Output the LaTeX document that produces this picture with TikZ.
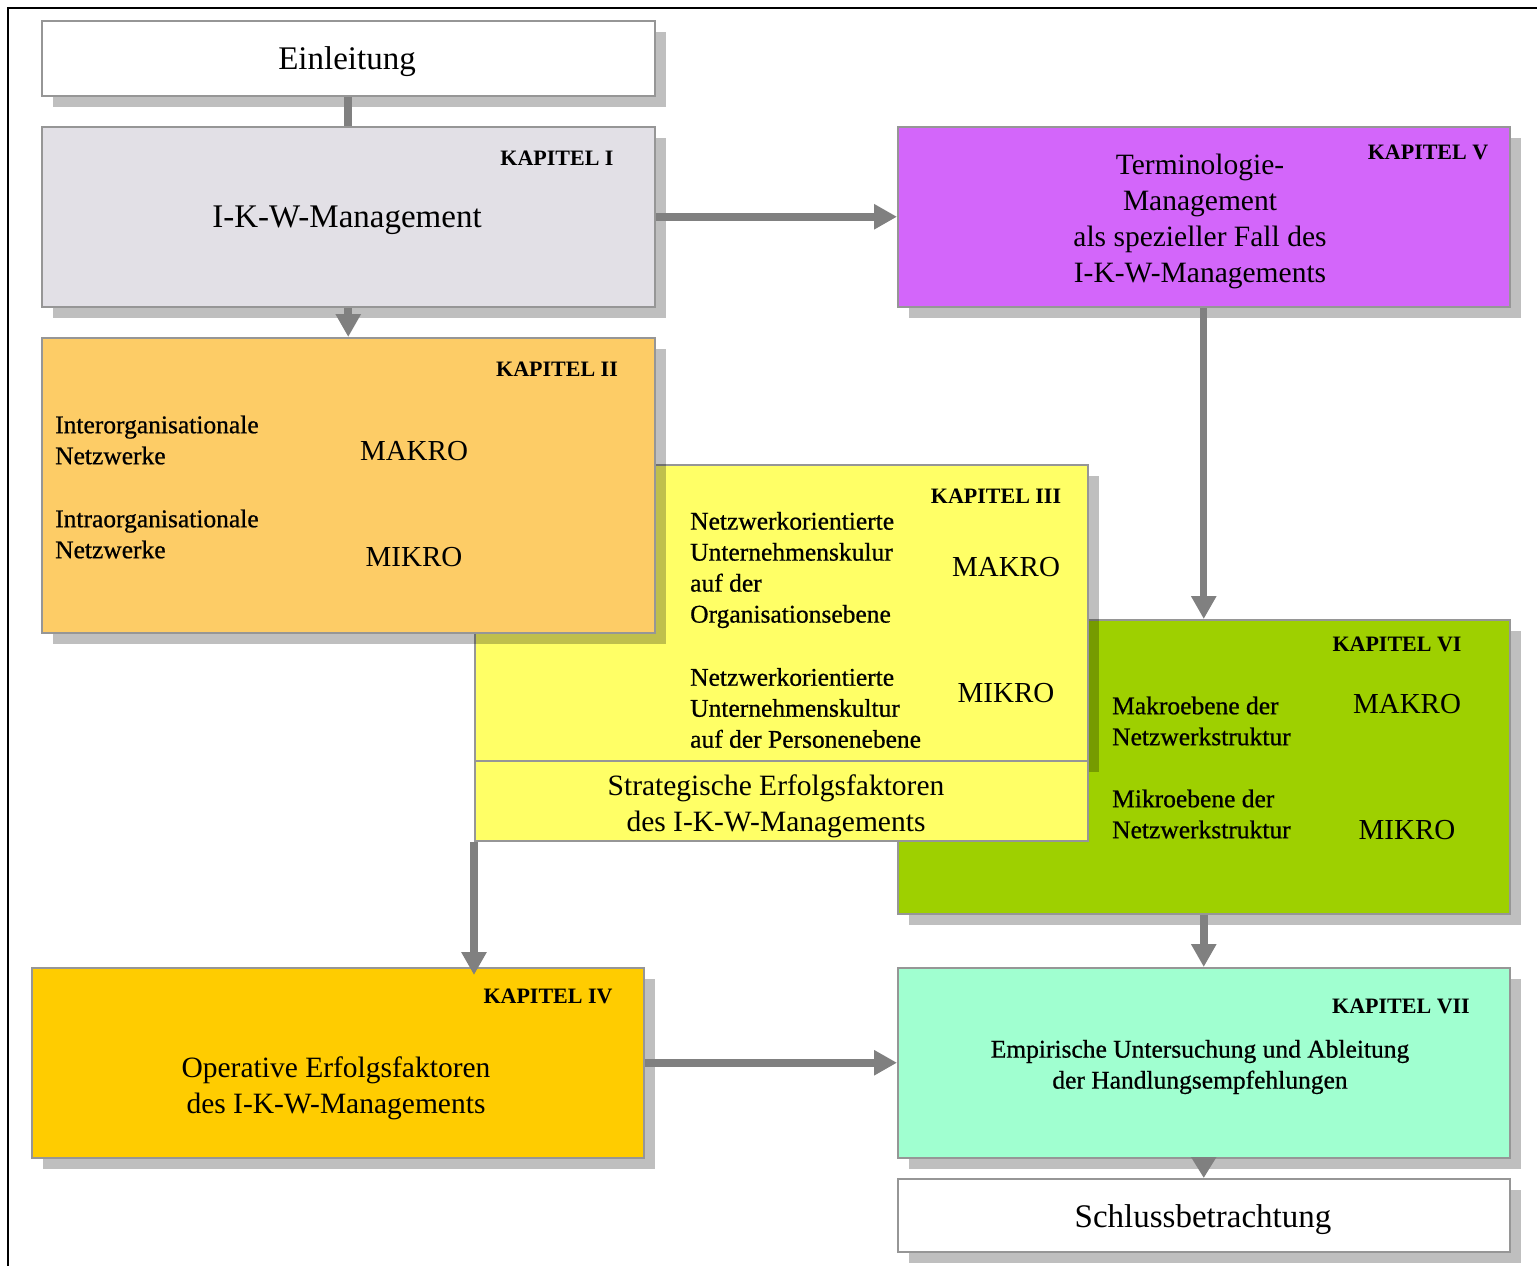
\documentclass[tikz,border=0pt]{standalone}
\usepackage{fontspec}
\setmainfont{Liberation Serif}
\newfontfamily\medserif{Liberation Serif}[FakeBold=0.7]
\usetikzlibrary{arrows.meta,shadows}

\definecolor{kapOne}{RGB}{226,224,230}
\definecolor{kapTwo}{RGB}{253,204,102}
\definecolor{kapThree}{RGB}{255,255,102}
\definecolor{kapFour}{RGB}{255,204,0}
\definecolor{kapFive}{RGB}{211,102,250}
\definecolor{kapSix}{RGB}{158,208,0}
\definecolor{kapSeven}{RGB}{160,255,208}
\definecolor{edgeGray}{RGB}{150,150,150}
\definecolor{linkGray}{RGB}{128,128,128}

\newcommand\fsBig{\fontsize{33}{36}\selectfont}
\newcommand\fsMid{\fontsize{29.5}{36}\selectfont}
\newcommand\fsMac{\fontsize{29}{32}\selectfont}
\newcommand\fsSmall{\medserif\fontsize{25.5}{31}\selectfont}
\newcommand\fsKap{\fontsize{22}{24}\selectfont\bfseries}

\tikzset{
  chapbox/.style={draw=edgeGray, line width=1.5pt, rectangle, inner sep=0pt,
    anchor=north west,
    drop shadow={shadow xshift=11pt, shadow yshift=-11pt, fill=black, opacity=0.25}},
  plainbox/.style={draw=edgeGray, line width=1.5pt, rectangle, inner sep=0pt,
    anchor=north west},
  txt/.style={inner sep=0pt, text=black},
  kaplabel/.style={txt, font=\fsKap},
  link/.style={draw=linkGray, line width=8pt},
  arrowlink/.style={link, -{Triangle[width=24pt,length=23pt]}},
}

\begin{document}
\begin{tikzpicture}[x=1pt, y=-1pt]
\useasboundingbox (0,0) rectangle (1537,1266);
\fill[white] (0,0) rectangle (1537,1266);

% page frame (left and top edges)
\draw[line width=2.5pt, black] (8,1266) -- (8,8) -- (1537,8);

% boxes, back to front
\node[chapbox, fill=white, minimum width=613pt, minimum height=75pt] (ein) at (41,20) {};
\node[chapbox, fill=kapOne, minimum width=613pt, minimum height=180pt] (kap1) at (41,126) {};
\node[chapbox, fill=kapFive, minimum width=612pt, minimum height=180pt] (kap5) at (897,126) {};
\node[chapbox, fill=kapSix, minimum width=612pt, minimum height=294pt] (kap6) at (897,619) {};
\node[chapbox, fill=kapThree, minimum width=613pt, minimum height=296pt] (kap3) at (474,464) {};
\node[plainbox, fill=kapThree, minimum width=613pt, minimum height=80pt] (kap3b) at (474,760) {};
\node[chapbox, fill=kapTwo, minimum width=613pt, minimum height=295pt] (kap2) at (41,337) {};
\node[chapbox, fill=kapFour, minimum width=612pt, minimum height=190pt] (kap4) at (31,967) {};
\node[chapbox, fill=kapSeven, minimum width=612pt, minimum height=190pt] (kap7) at (897,967) {};
\node[chapbox, fill=white, minimum width=612pt, minimum height=73pt] (schluss) at (897,1178) {};

% Einleitung
\node[txt, font=\fsBig] (tEin) at (347,62) {Einleitung};

% Kapitel I
\node[kaplabel] (k1) at (557,158) {KAPITEL I};
\node[txt, font=\fsBig] (t1) at (347,220) {I-K-W-Management};

% Kapitel V
\node[kaplabel] (k5) at (1428,152) {KAPITEL V};
\node[txt, font=\fsMid, align=center] (t5) at (1200,221)
  {Terminologie-\\Management\\als spezieller Fall des\\I-K-W-Managements};

% Kapitel II
\node[kaplabel] (k2) at (557,369) {KAPITEL II};
\node[txt, font=\fsSmall, align=left, anchor=west] (t2a) at (55,440)
  {Interorganisationale\\Netzwerke};
\node[txt, font=\fsMac] (m2a) at (414,451) {MAKRO};
\node[txt, font=\fsSmall, align=left, anchor=west] (t2b) at (55,534)
  {Intraorganisationale\\Netzwerke};
\node[txt, font=\fsMac] (m2b) at (414,557) {MIKRO};

% Kapitel III
\node[kaplabel] (k3) at (996,496) {KAPITEL III};
\node[txt, font=\fsSmall, align=left, anchor=west] (t3a) at (690,570)
  {Netzwerkorientierte\\Unternehmenskulur\\auf der\\Organisationsebene};
\node[txt, font=\fsMac] (m3a) at (1006,567) {MAKRO};
\node[txt, font=\fsSmall, align=left, anchor=west] (t3b) at (690,708)
  {Netzwerkorientierte\\Unternehmenskultur\\auf der Personenebene};
\node[txt, font=\fsMac] (m3b) at (1006,693) {MIKRO};
\node[txt, font=\fsMid, align=center] (t3c) at (776,806)
  {Strategische Erfolgsfaktoren\\des I-K-W-Managements};

% Kapitel VI
\node[kaplabel] (k6) at (1397,644) {KAPITEL VI};
\node[txt, font=\fsSmall, align=left, anchor=west] (t6a) at (1112,721)
  {Makroebene der\\Netzwerkstruktur};
\node[txt, font=\fsMac] (m6a) at (1407,704) {MAKRO};
\node[txt, font=\fsSmall, align=left, anchor=west] (t6b) at (1112,814)
  {Mikroebene der\\Netzwerkstruktur};
\node[txt, font=\fsMac] (m6b) at (1407,830) {MIKRO};

% Kapitel IV
\node[kaplabel] (k4) at (548,996) {KAPITEL IV};
\node[txt, font=\fsMid, align=center] (t4) at (336,1088)
  {Operative Erfolgsfaktoren\\des I-K-W-Managements};

% Kapitel VII
\node[kaplabel] (k7) at (1401,1006) {KAPITEL VII};
\node[txt, font=\fsSmall, align=center] (t7) at (1200,1067)
  {Empirische Untersuchung und Ableitung\\der Handlungsempfehlungen};

% Schlussbetrachtung
\node[txt, font=\fsBig] (tS) at (1203,1220) {Schlussbetrachtung};

% connectors
\draw[link] (ein.south) -- (kap1.north);
\draw[arrowlink] (kap1.south) -- (kap2.north);
\draw[arrowlink] (kap1.east) -- (kap5.west);
\draw[arrowlink, line width=7pt] (kap5.south) -- (kap6.north);
\draw[arrowlink, shorten >=-8pt] (kap3b.south west) -- (kap3b.south west |- kap4.north);
\draw[arrowlink] (kap4.east) -- (kap7.west);
\draw[arrowlink] (kap6.south) -- (kap7.north);
\draw[arrowlink, -{Triangle[width=24pt,length=21pt]}] (kap7.south) -- (schluss.north);
\end{tikzpicture}
\end{document}
